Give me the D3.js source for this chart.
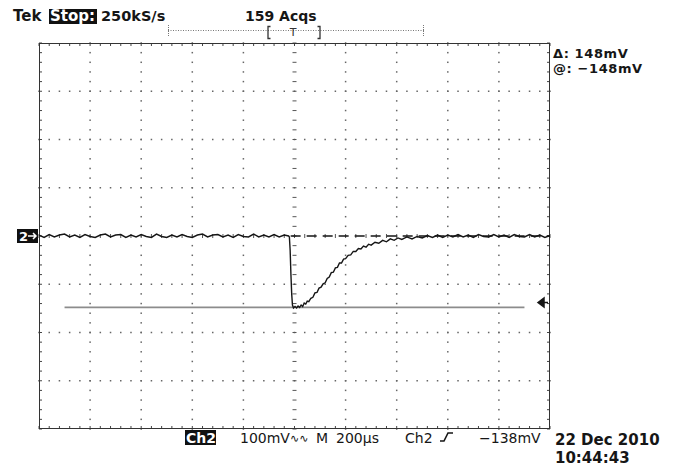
<!DOCTYPE html>
<html>
<head>
<meta charset="utf-8">
<script src="https://cdn.jsdelivr.net/npm/d3@7"></script>
<style>
  html, body { margin: 0; padding: 0; background: #fff; }
  svg { display: block; font-family: "DejaVu Sans", sans-serif; }
</style>
</head>
<body>
<svg id="scope" width="676" height="468"></svg>
<script>
// scope settings: 10 div x 200us, 8 div x 100mV
const timeDomainUs = [0, 2000];
const voltDomainMv = [-400, 400];
const timePerDivUs = 200;
const voltPerDivMv = 100;

// channel 2 trace, [time us, level mV]
const trace = [
  [0, 2], [20, -3], [40, 3], [60, -2], [80, 2], [100, 4], [120, -2], [140, 2], [160, -3], [180, 3],
  [200, -1], [220, -3], [240, 2], [260, 4], [280, -2], [300, 2], [320, 3], [340, -3], [360, 2], [380, -2],
  [400, 3], [420, -1], [440, -3], [460, 4], [480, -1], [500, -3], [520, 2], [540, -2], [560, 3], [580, -1],
  [600, -3], [620, 2], [640, 4], [660, -2], [680, 2], [700, 3], [720, -2], [740, 2], [760, -3], [780, 3],
  [800, -1], [820, -2], [840, 4], [860, -2], [880, 2], [900, -2], [920, 3], [940, -2], [960, 2], [977, 0],
  [980, -2], [983, -30], [986, -80], [989, -120], [992, -143], [996, -149], [1002, -146], [1008, -149], [1014, -145], [1020, -148],
  [1026, -143], [1032, -146], [1038, -139], [1044, -141], [1050, -135], [1056, -136], [1064, -129], [1072, -127], [1080, -118], [1088, -117],
  [1096, -108], [1104, -106], [1112, -99], [1120, -97], [1128, -88], [1136, -85], [1144, -76], [1152, -75], [1160, -66], [1168, -65],
  [1176, -56], [1184, -56], [1192, -48], [1200, -47], [1210, -40], [1220, -39], [1230, -32], [1240, -32], [1250, -26], [1260, -27],
  [1270, -21], [1280, -23], [1290, -17], [1300, -19], [1315, -13], [1330, -15], [1345, -9], [1360, -12], [1375, -6], [1390, -9],
  [1405, -4], [1420, -7], [1440, -2], [1460, -6], [1480, -1], [1500, -4], [1520, 1], [1540, -3], [1560, 2], [1580, -3],
  [1600, 2], [1620, -2], [1640, 3], [1660, -2], [1680, 2], [1700, -3], [1720, 3], [1740, -1], [1760, -2], [1780, 3],
  [1800, -2], [1820, 2], [1840, -3], [1860, 3], [1880, -1], [1900, -2], [1920, 3], [1940, -2], [1960, 2], [1980, -3], [2000, 1]
];

const refLineUs = [985, 2000];   // dashed level at 0 mV
const refLevelMv = 0;
const cursorSpanUs = [100, 1900];
const cursorMv = -148;
const triggerMv = -138;

const topLabels = ['Tek', 'Stop:', '250kS/s', '159 Acqs'];
const cursorReadout = ['\u0394: 148mV', '@: \u2212148mV'];
const bottomLabels = ['Ch2', '100mV', 'M', '200\u00b5s', 'Ch2', '\u2212138mV'];
const dateLabels = ['22 Dec 2010', '10:44:43'];

const plot = { left: 39, right: 550, top: 43, bottom: 429 };
const ink = '#161616';
const svg = d3.select('#scope');

const x = d3.scaleLinear().domain(timeDomainUs).range([plot.left, plot.right]);
const y = d3.scaleLinear().domain(voltDomainMv).range([plot.bottom, plot.top]);

const minorX = d3.range(timeDomainUs[0], timeDomainUs[1] + 1, timePerDivUs / 5);
const minorY = d3.range(voltDomainMv[0], voltDomainMv[1] + 1, voltPerDivMv / 5);
const majorX = d3.range(timeDomainUs[0] + timePerDivUs, timeDomainUs[1], timePerDivUs);
const majorY = d3.range(voltDomainMv[0] + voltPerDivMv, voltDomainMv[1], voltPerDivMv);
const midT = (timeDomainUs[0] + timeDomainUs[1]) / 2;
const midV = (voltDomainMv[0] + voltDomainMv[1]) / 2;

// graticule dots
const grid = svg.append('g');
const dots = d3.cross(majorX.filter(t => t !== midT), minorY)
  .concat(d3.cross(minorX, majorY.filter(v => v !== midV)));
grid.selectAll('rect.dot')
  .data(dots)
  .enter()
  .append('rect')
  .attr('class', 'dot')
  .attr('x', d => x(d[0]) - 0.75)
  .attr('y', d => y(d[1]) - 0.75)
  .attr('width', 1.5)
  .attr('height', 1.5)
  .attr('fill', '#666');

// center cross ticks
grid.selectAll('line.cy')
  .data(minorY)
  .enter()
  .append('line')
  .attr('x1', x(midT) - 2).attr('x2', x(midT) + 2)
  .attr('y1', d => y(d)).attr('y2', d => y(d))
  .attr('stroke', '#555');
grid.selectAll('line.cx')
  .data(minorX)
  .enter()
  .append('line')
  .attr('y1', y(midV) - 2).attr('y2', y(midV) + 2)
  .attr('x1', d => x(d)).attr('x2', d => x(d))
  .attr('stroke', '#555');

// border ticks
const ticks = svg.append('g').attr('stroke', '#444');
ticks.selectAll(null).data(minorX).enter().append('line')
  .attr('x1', d => x(d)).attr('x2', d => x(d)).attr('y1', plot.top).attr('y2', plot.top + 3);
ticks.selectAll(null).data(minorX).enter().append('line')
  .attr('x1', d => x(d)).attr('x2', d => x(d)).attr('y1', plot.bottom).attr('y2', plot.bottom - 3);
ticks.selectAll(null).data(minorY).enter().append('line')
  .attr('y1', d => y(d)).attr('y2', d => y(d)).attr('x1', plot.left).attr('x2', plot.left + 3);
ticks.selectAll(null).data(minorY).enter().append('line')
  .attr('y1', d => y(d)).attr('y2', d => y(d)).attr('x1', plot.right).attr('x2', plot.right - 3);

svg.append('rect')
  .attr('x', plot.left + 0.5).attr('y', plot.top + 0.5)
  .attr('width', plot.right - plot.left - 1).attr('height', plot.bottom - plot.top - 1)
  .attr('fill', 'none').attr('stroke', '#333');

// cursor line and trigger level arrow
svg.append('line')
  .attr('x1', x(cursorSpanUs[0])).attr('x2', x(cursorSpanUs[1]))
  .attr('y1', y(cursorMv)).attr('y2', y(cursorMv))
  .attr('stroke', '#8c8c8c').attr('stroke-width', 1.6);
const ty = y(triggerMv);
svg.append('path')
  .attr('d', `M${plot.right - 12},${ty} L${plot.right - 6},${ty - 4.5} L${plot.right - 6},${ty + 4.5} Z M${plot.right - 6},${ty} L${plot.right - 2},${ty}`)
  .attr('fill', ink).attr('stroke', ink).attr('stroke-width', 1.5);

// reference level and trace
svg.append('line')
  .attr('x1', x(refLineUs[0])).attr('x2', x(refLineUs[1]))
  .attr('y1', y(refLevelMv)).attr('y2', y(refLevelMv))
  .attr('stroke', ink).attr('stroke-width', 1.6).attr('stroke-dasharray', '10,6');
svg.append('path')
  .datum(trace)
  .attr('d', d3.line().x(d => x(d[0])).y(d => y(d[1])))
  .attr('fill', 'none').attr('stroke', ink).attr('stroke-width', 1.4);

// ground marker "2->"
const gy = y(0);
svg.append('rect').attr('x', 17).attr('y', gy - 7).attr('width', 21).attr('height', 14).attr('fill', '#111');
svg.append('text').attr('x', 19).attr('y', gy + 5).attr('fill', '#fff')
  .attr('font-size', 13).attr('font-weight', 'bold').text('2');
svg.append('path')
  .attr('d', `M28,${gy} L36,${gy} M33,${gy - 3} L36,${gy} L33,${gy + 3}`)
  .attr('fill', 'none').attr('stroke', '#fff').attr('stroke-width', 1.5);

// header
const head = svg.append('g').attr('font-size', 15).attr('font-weight', 'bold').attr('fill', ink);
head.append('text').attr('x', 13).attr('y', 21).text(topLabels[0]);
head.append('rect').attr('x', 49).attr('y', 9).attr('width', 48).attr('height', 15).attr('fill', '#111');
head.append('text').attr('x', 50).attr('y', 21).attr('fill', '#fff').text(topLabels[1]);
head.append('text').attr('x', 101).attr('y', 21).attr('font-size', 14.5).text(topLabels[2]);
head.append('text').attr('x', 245).attr('y', 21).attr('font-size', 14).text(topLabels[3]);

// record bar
const bar = svg.append('g').attr('stroke', '#777').attr('fill', 'none');
bar.append('line').attr('x1', 168).attr('x2', 424).attr('y1', 30.5).attr('y2', 30.5).attr('stroke-dasharray', '1,1.5');
bar.append('line').attr('x1', 168.5).attr('x2', 168.5).attr('y1', 25).attr('y2', 36).attr('stroke-dasharray', '1,1');
bar.append('line').attr('x1', 423.5).attr('x2', 423.5).attr('y1', 25).attr('y2', 36).attr('stroke-dasharray', '1,1');
bar.append('path').attr('d', 'M270.5,26.5 H268 V38.5 H270.5').attr('stroke', '#333').attr('stroke-width', 1.3);
bar.append('path').attr('d', 'M317.5,26.5 H320 V38.5 H317.5').attr('stroke', '#333').attr('stroke-width', 1.3);
svg.append('text').attr('x', 293).attr('y', 36).attr('text-anchor', 'middle')
  .attr('font-size', 11).attr('fill', '#333').text('T');

// cursor readout
const readout = svg.append('g').attr('font-size', 13).attr('font-weight', 'bold').attr('fill', ink)
  .attr('letter-spacing', 0.6);
readout.selectAll('text').data(cursorReadout).enter().append('text')
  .attr('x', 553).attr('y', (d, i) => 57.5 + i * 15.5).text(d => d);

// bottom status line
const foot = svg.append('g').attr('font-size', 14).attr('fill', ink);
foot.append('rect').attr('x', 185).attr('y', 430).attr('width', 31).attr('height', 15).attr('fill', '#111');
foot.append('text').attr('x', 186).attr('y', 443).attr('fill', '#fff').attr('font-weight', 'bold').text(bottomLabels[0]);
foot.append('text').attr('x', 240).attr('y', 443).text(bottomLabels[1]);
foot.append('text').attr('x', 290).attr('y', 442).attr('font-size', 11).text('\u223f\u223f');
foot.append('text').attr('x', 316).attr('y', 443).text(bottomLabels[2]);
foot.append('text').attr('x', 336).attr('y', 443).text(bottomLabels[3]);
foot.append('text').attr('x', 405).attr('y', 443).text(bottomLabels[4]);
foot.append('path').attr('d', 'M440,441 H444 L448,433 H453')
  .attr('fill', 'none').attr('stroke', ink).attr('stroke-width', 1.6);
foot.append('text').attr('x', 479).attr('y', 443).text(bottomLabels[5]);

const date = svg.append('g').attr('font-size', 15).attr('font-weight', 'bold').attr('fill', ink);
date.selectAll('text').data(dateLabels).enter().append('text')
  .attr('x', 555).attr('y', (d, i) => 445 + i * 18).text(d => d);
</script>
</body>
</html>
